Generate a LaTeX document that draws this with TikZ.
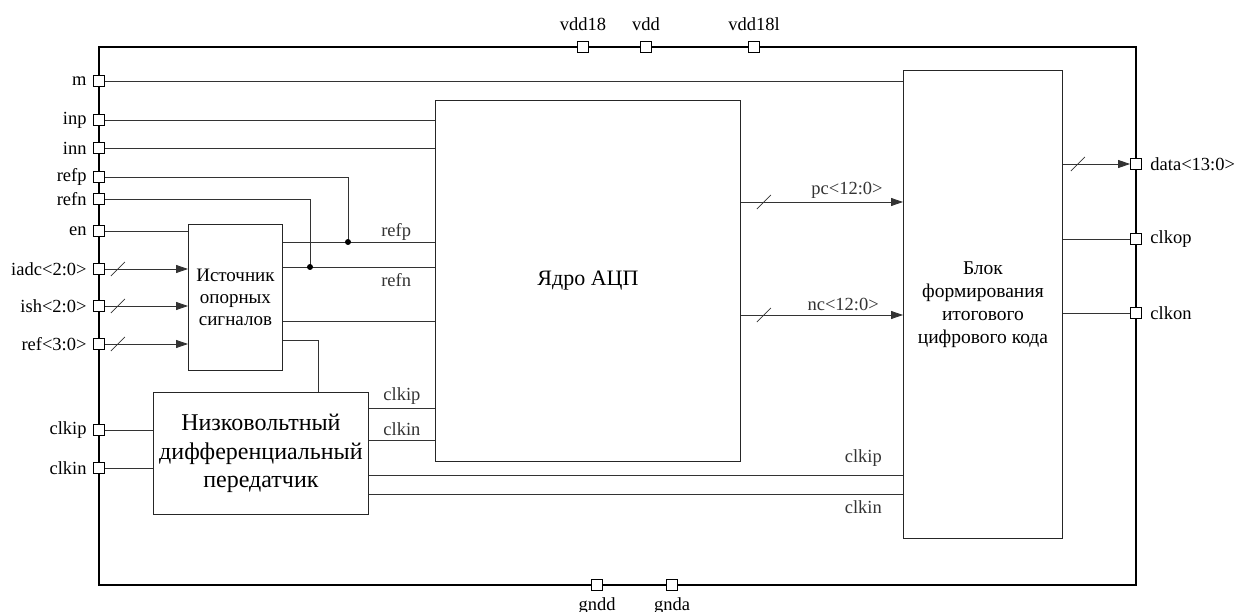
\documentclass[tikz,border=0pt]{standalone}
\usepackage{fontspec}
\setmainfont{Liberation Serif}
\usetikzlibrary{arrows.meta, calc, positioning}

\begin{document}
\begin{tikzpicture}[
    x=1pt, y=-1pt,
    font=\fontsize{18.5}{21}\selectfont,
    blk/.style={
        draw=black!85,
        line width=0.9pt,
        fill=white,
        inner sep=0pt,
        anchor=north west,
        align=center
    },
    port/.style={
        draw,
        line width=0.8pt,
        fill=white,
        minimum size=11pt,
        inner sep=0pt
    },
    wire/.style={
        line width=0.8pt,
        black!80
    },
    bus/.style={
        wire,
        -{Triangle[length=12pt,width=8pt]}
    },
    dot/.style={
        circle,
        fill=black,
        inner sep=0pt,
        minimum size=6pt
    },
    lbl/.style={
        inner sep=0pt
    }
]
\useasboundingbox (0,0) rectangle (1242,612);

% Корпус микросхемы
\draw[line width=2.6pt] (99,47) rectangle (1136,585);

% Блоки
\node[blk, minimum width=94pt, minimum height=146pt,
    font=\fontsize{19}{22}\selectfont] (src) at (188,224)
    {Источник\\опорных\\сигналов};
\node[blk, minimum width=215pt, minimum height=122pt,
    font=\fontsize{24}{28.5}\selectfont] (lvds) at (153,392)
    {Низковольтный\\дифференциальный\\передатчик};
\node[blk, minimum width=305pt, minimum height=361pt,
    font=\fontsize{22}{26}\selectfont] (adc) at (435,100)
    {Ядро АЦП};
\node[blk, minimum width=159pt, minimum height=468pt,
    font=\fontsize{19.5}{23}\selectfont] (dig) at (903,70)
    {Блок\\формирования\\итогового\\цифрового кода};

% Выводы слева
\foreach \nm/\txt/\y in {m/m/81, inp/inp/120, inn/inn/148, refp/refp/177,
    refn/refn/199, en/en/231, iadc/iadc<2:0>/269, ish/ish<2:0>/306,
    refc/ref<3:0>/344, clkip/clkip/430, clkin/clkin/468} {
    \node[port] (p\nm) at (99,\y) {};
    \node[left=3pt of p\nm] (t\nm) {\txt};
}

% Выводы справа
\foreach \nm/\txt/\y in {data/data<13:0>/164, clkop/clkop/239, clkon/clkon/313} {
    \node[port] (p\nm) at (1136,\y) {};
    \node[right=5pt of p\nm] (t\nm) {\txt};
}

% Питание и земля
\foreach \nm/\x in {vdd18/583, vdd/646, vdd18l/754} {
    \node[port] (p\nm) at (\x,47) {};
    \node[above=7pt of p\nm] (t\nm) {\nm};
}
\foreach \nm/\x in {gndd/597, gnda/672} {
    \node[port] (p\nm) at (\x,585) {};
    \node[below=3pt of p\nm] (t\nm) {\nm};
}

% Уровни линий
\coordinate (yrp) at (0,242);
\coordinate (yrn) at (0,267);
\coordinate (ysg) at (0,321);
\coordinate (ylv) at (318,340);
\coordinate (yck1) at (0,408);
\coordinate (yck2) at (0,440);
\coordinate (yck3) at (0,475);
\coordinate (yck4) at (0,494);
\coordinate (ypc) at (0,202);
\coordinate (ync) at (0,315);
\coordinate (jp) at (348,242);
\coordinate (jn) at (310,267);

% Входы
\draw[wire] (pm.east) -- (pm -| dig.west);
\draw[wire] (pinp.east) -- (pinp -| adc.west);
\draw[wire] (pinn.east) -- (pinn -| adc.west);
\draw[wire] (prefp.east) -| (jp);
\draw[wire] (prefn.east) -| (jn);
\draw[wire] (pen.east) -- (pen -| src.west);
\foreach \nm in {iadc, ish, refc} {
    \draw[bus] (p\nm.east) -- (p\nm -| src.west);
    \draw[wire] ($(p\nm.east)+(6,7)$) -- ++(14,-14);
}

% Источник опорных сигналов
\draw[wire] (src.east |- yrp) -- (adc.west |- yrp)
    node[lbl, pos=0.745, anchor=south, yshift=1pt] (lrefp) {refp};
\draw[wire] (src.east |- yrn) -- (adc.west |- yrn)
    node[lbl, pos=0.745, anchor=north, yshift=-6pt] (lrefn) {refn};
\node[dot] (dp) at (jp) {};
\node[dot] (dn) at (jn) {};
\draw[wire] (src.east |- ysg) -- (adc.west |- ysg);
\draw[wire] (src.east |- ylv) -- (ylv) -- (ylv |- lvds.north);

% Тактовые сигналы
\draw[wire] (pclkip.east) -- (pclkip -| lvds.west);
\draw[wire] (pclkin.east) -- (pclkin -| lvds.west);
\draw[wire] (lvds.east |- yck1) -- (adc.west |- yck1)
    node[lbl, pos=0.5, anchor=south, yshift=3pt] (lck1) {clkip};
\draw[wire] (lvds.east |- yck2) -- (adc.west |- yck2)
    node[lbl, pos=0.5, anchor=south, yshift=4pt] (lck2) {clkin};
\draw[wire] (lvds.east |- yck3) -- (dig.west |- yck3)
    node[lbl, pos=0.961, anchor=south east, yshift=8pt] (lck3) {clkip};
\draw[wire] (lvds.east |- yck4) -- (dig.west |- yck4)
    node[lbl, pos=0.961, anchor=north east, yshift=-6pt] (lck4) {clkin};

% Выходные шины
\draw[bus] (adc.east |- ypc) -- (dig.west |- ypc)
    node[lbl, pos=0.877, anchor=south east, yshift=3pt] (lpc) {pc<12:0>};
\draw[wire] ($(adc.east |- ypc)+(16,7)$) -- ++(14,-14);
\draw[bus] (adc.east |- ync) -- (dig.west |- ync)
    node[lbl, pos=0.853, anchor=south east, yshift=4pt] (lnc) {nc<12:0>};
\draw[wire] ($(adc.east |- ync)+(16,7)$) -- ++(14,-14);
\draw[bus] (dig.east |- pdata) -- (pdata.west);
\draw[wire] ($(dig.east |- pdata)+(8,7)$) -- ++(14,-14);
\draw[wire] (dig.east |- pclkop) -- (pclkop.west);
\draw[wire] (dig.east |- pclkon) -- (pclkon.west);

\end{tikzpicture}
\end{document}
